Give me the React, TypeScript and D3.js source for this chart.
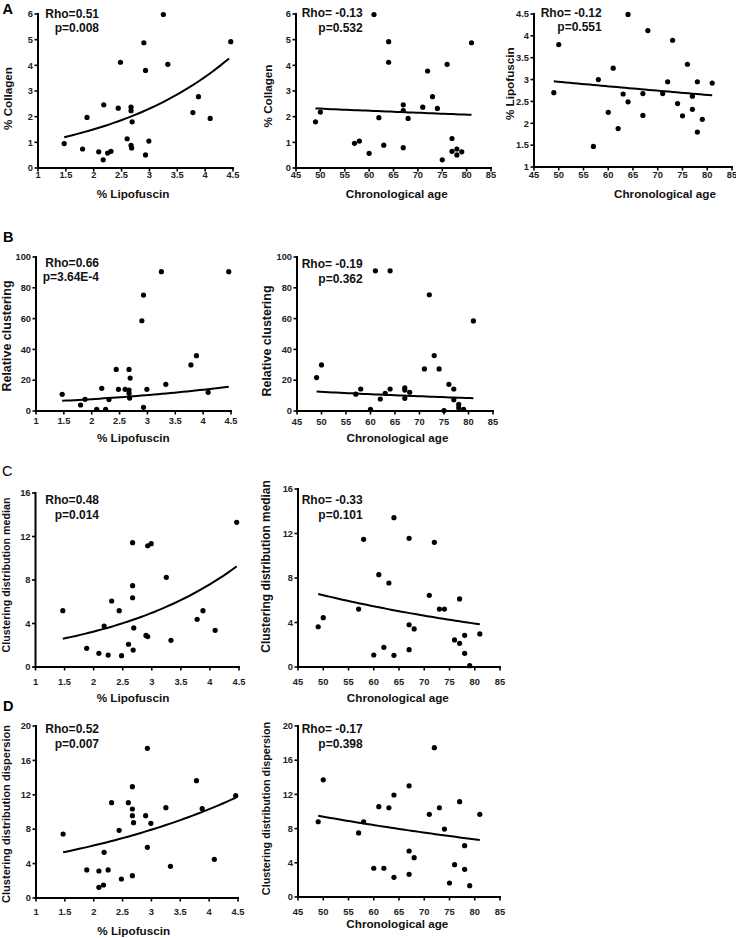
import React from 'react';
import * as d3 from 'd3';

// ---------- DATA ----------
const lipoTicks = [1, 1.5, 2, 2.5, 3, 3.5, 4, 4.5];
const ageTicks = [45, 50, 55, 60, 65, 70, 75, 80, 85];
const collagenTicks = [0, 1, 2, 3, 4, 5, 6];
const lipoYTicks = [1, 1.5, 2, 2.5, 3, 3.5, 4, 4.5];
const clusteringTicks = [0, 20, 40, 60, 80, 100];
const medianTicks = [0, 4, 8, 12, 16];
const dispersionTicks = [0, 4, 8, 12, 16, 20];

// A1: % Lipofuscin vs % Collagen
const a1Lipo = [1.47, 1.8, 1.88, 2.09, 2.17, 2.18, 2.25, 2.31, 2.44, 2.48, 2.6, 2.67, 2.67, 2.67, 2.68, 2.69, 2.9, 2.93, 2.93, 2.99, 3.25, 3.33, 3.78, 3.88, 4.09, 4.46];
const a1Collagen = [0.95, 0.74, 1.97, 0.63, 0.32, 2.46, 0.58, 0.65, 2.33, 4.12, 1.14, 2.37, 2.23, 0.88, 0.78, 1.8, 4.88, 3.8, 0.51, 1.05, 5.98, 4.04, 2.16, 2.78, 1.93, 4.92];
const a1Fit = [1.47, 1.2, 4.43, 4.27];

// A2: age vs % Collagen
const a2Age = [49, 50, 57, 58, 60, 61, 62, 63, 64, 64, 67, 67, 67, 68, 71, 72, 73, 74, 75, 76, 77, 77, 78, 78, 79, 81];
const a2Collagen = [1.8, 2.18, 0.96, 1.05, 0.57, 5.98, 1.96, 0.89, 4.92, 4.12, 2.46, 2.24, 0.79, 1.93, 2.37, 3.78, 2.78, 2.32, 0.32, 4.04, 1.15, 0.65, 0.74, 0.51, 0.63, 4.88];
const a2Fit = [49, 2.32, 81, 2.07];

// A3: age vs % Lipofuscin
const a3Age = [49, 50, 57, 58, 60, 61, 62, 63, 64, 64, 67, 67, 68, 71, 72, 73, 74, 75, 76, 77, 77, 78, 78, 79, 81];
const a3Lipo = [2.7, 3.8, 1.47, 3.0, 2.25, 3.26, 1.88, 2.67, 4.49, 2.49, 2.68, 2.18, 4.12, 2.68, 2.95, 3.9, 2.45, 2.17, 3.35, 2.62, 2.32, 2.95, 1.8, 2.09, 2.92];
const a3Fit = [49, 2.96, 81, 2.64];

// B1: % Lipofuscin vs Relative clustering
const b1Lipo = [1.47, 1.8, 1.88, 2.09, 2.18, 2.25, 2.31, 2.44, 2.48, 2.6, 2.67, 2.69, 2.67, 2.67, 2.68, 2.9, 2.93, 2.93, 2.99, 3.25, 3.33, 3.78, 3.88, 4.09, 4.46];
const b1Clustering = [10.8, 3.9, 7.6, 1.1, 14.7, 1.1, 7.4, 27.0, 14.1, 14.1, 27.0, 21.4, 13.6, 11.5, 8.4, 58.6, 75.3, 2.4, 14.1, 90.5, 17.3, 29.9, 35.9, 12.1, 90.5];
const b1Fit = [1.47, 6.6, 4.46, 15.8];

// B2: age vs Relative clustering
const b2Age = [49, 50, 57, 58, 60, 61, 62, 63, 64, 64, 67, 67, 67, 68, 71, 72, 73, 74, 75, 76, 77, 77, 78, 78, 79, 81];
const b2Clustering = [21.7, 29.9, 10.9, 14.3, 1.1, 91.0, 7.8, 11.5, 91.0, 14.3, 15.0, 13.6, 8.2, 12.1, 27.3, 75.5, 36.0, 27.3, 0.3, 17.3, 14.3, 7.3, 4.3, 2.1, 1.1, 58.5];
const b2Fit = [49, 12.6, 81, 8.3];

// C1: % Lipofuscin vs Clustering distribution median
const c1Lipo = [1.47, 1.88, 2.09, 2.18, 2.25, 2.31, 2.44, 2.48, 2.6, 2.67, 2.67, 2.67, 2.69, 2.68, 2.9, 2.93, 2.93, 2.99, 3.25, 3.33, 3.78, 3.88, 4.09, 4.46];
const c1Median = [5.18, 1.72, 1.26, 3.77, 1.1, 6.07, 5.18, 1.04, 2.09, 11.43, 7.48, 6.37, 3.59, 1.56, 2.9, 2.8, 11.15, 11.34, 8.25, 2.45, 4.38, 5.18, 3.37, 13.3];
const c1Fit = [1.47, 2.6, 4.46, 9.25];

// C2: age vs Clustering distribution median
const c2Age = [49, 50, 57, 58, 60, 61, 62, 63, 64, 64, 67, 67, 67, 68, 71, 72, 73, 74, 76, 77, 77, 78, 78, 79, 81];
const c2Median = [3.62, 4.43, 5.21, 11.48, 1.08, 8.3, 1.77, 7.55, 13.42, 1.05, 11.57, 3.8, 1.56, 3.42, 6.44, 11.21, 5.21, 5.21, 2.43, 6.12, 2.13, 2.85, 1.23, 0.12, 2.97];
const c2Fit = [49, 6.56, 81, 3.84];

// D1: % Lipofuscin vs Clustering distribution dispersion
const d1Lipo = [1.47, 1.88, 2.09, 2.09, 2.17, 2.18, 2.25, 2.31, 2.44, 2.48, 2.6, 2.67, 2.67, 2.67, 2.69, 2.67, 2.9, 2.93, 2.93, 2.99, 3.25, 3.33, 3.78, 3.88, 4.09, 4.46];
const d1Dispersion = [7.44, 3.26, 3.14, 1.24, 1.51, 5.31, 3.26, 11.09, 7.87, 2.21, 11.09, 12.95, 10.35, 9.57, 8.76, 2.6, 9.57, 17.4, 5.89, 8.68, 10.5, 3.68, 13.64, 10.39, 4.5, 11.9];
const d1Fit = [1.47, 5.31, 4.46, 11.66];

// D2: age vs Clustering distribution dispersion
const d2Age = [49, 50, 57, 58, 60, 61, 62, 63, 64, 64, 67, 67, 67, 68, 71, 72, 73, 74, 75, 76, 77, 78, 78, 79, 81];
const d2Dispersion = [8.8, 13.7, 7.5, 8.8, 3.36, 10.56, 3.36, 10.44, 11.93, 2.3, 13.0, 5.38, 2.65, 4.6, 9.67, 17.46, 10.44, 7.95, 1.64, 3.78, 11.15, 6.0, 3.24, 1.32, 9.67];
const d2Fit = [49, 9.5, 81, 6.67];

const stats = [
  ['Rho=0.51', 'p=0.008'],
  ['Rho= -0.13', 'p=0.532'],
  ['Rho= -0.12', 'p=0.551'],
  ['Rho=0.66', 'p=3.64E-4'],
  ['Rho= -0.19', 'p=0.362'],
  ['Rho=0.48', 'p=0.014'],
  ['Rho= -0.33', 'p=0.101'],
  ['Rho=0.52', 'p=0.007'],
  ['Rho= -0.17', 'p=0.398'],
];

// ---------- LAYOUT ----------
const FONT = '"Liberation Sans", Arial, Helvetica, sans-serif';

type Layout = {
  xRange: [number, number];
  yRange: [number, number];
  xLabelBase: number;
  xTitlePos: [number, number];
  yTitlePos: [number, number];
  yTitleSize: number;
  statRight: number;
  statBase: [number, number];
  letter?: string;
  letterPos?: [number, number];
  letterWeight?: string;
};

type PanelDef = {
  xs: number[];
  ys: number[];
  fit: number[];
  xTicks: number[];
  yTicks: number[];
  xTitle: string;
  yTitle: string;
  stat: string[];
  layout: Layout;
};

const panels: PanelDef[] = [
  {
    xs: a1Lipo, ys: a1Collagen, fit: a1Fit, xTicks: lipoTicks, yTicks: collagenTicks,
    xTitle: '% Lipofuscin', yTitle: '% Collagen', stat: stats[0],
    layout: { xRange: [38, 233], yRange: [168, 14], xLabelBase: 177.5, xTitlePos: [133, 197.5], yTitlePos: [12, 98.5], yTitleSize: 11.7, statRight: 99, statBase: [17.5, 31.7], letter: 'A', letterPos: [2.5, 14], letterWeight: 'bold' },
  },
  {
    xs: a2Age, ys: a2Collagen, fit: a2Fit, xTicks: ageTicks, yTicks: collagenTicks,
    xTitle: 'Chronological age', yTitle: '% Collagen', stat: stats[1],
    layout: { xRange: [296, 491], yRange: [168, 14], xLabelBase: 178, xTitlePos: [396.7, 197.5], yTitlePos: [271.5, 96], yTitleSize: 11.7, statRight: 362.7, statBase: [17.3, 31.5] },
  },
  {
    xs: a3Age, ys: a3Lipo, fit: a3Fit, xTicks: ageTicks, yTicks: lipoYTicks,
    xTitle: 'Chronological age', yTitle: '% Lipofuscin', stat: stats[2],
    layout: { xRange: [534, 732], yRange: [167, 14], xLabelBase: 178, xTitlePos: [665, 197.5], yTitlePos: [513.5, 83.7], yTitleSize: 11.7, statRight: 601.7, statBase: [17, 31] },
  },
  {
    xs: b1Lipo, ys: b1Clustering, fit: b1Fit, xTicks: lipoTicks, yTicks: clusteringTicks,
    xTitle: '% Lipofuscin', yTitle: 'Relative clustering', stat: stats[3],
    layout: { xRange: [36, 231], yRange: [411, 257], xLabelBase: 423.5, xTitlePos: [133.3, 441.5], yTitlePos: [11, 336], yTitleSize: 12.5, statRight: 99, statBase: [266.7, 281], letter: 'B', letterPos: [3, 242], letterWeight: 'bold' },
  },
  {
    xs: b2Age, ys: b2Clustering, fit: b2Fit, xTicks: ageTicks, yTicks: clusteringTicks,
    xTitle: 'Chronological age', yTitle: 'Relative clustering', stat: stats[4],
    layout: { xRange: [297, 493], yRange: [411, 257], xLabelBase: 424.5, xTitlePos: [397.5, 441.8], yTitlePos: [271, 341], yTitleSize: 12.5, statRight: 362.7, statBase: [268.3, 283.3] },
  },
  {
    xs: c1Lipo, ys: c1Median, fit: c1Fit, xTicks: lipoTicks, yTicks: medianTicks,
    xTitle: '% Lipofuscin', yTitle: 'Clustering distribution median', stat: stats[5],
    layout: { xRange: [35.5, 239], yRange: [667, 493], xLabelBase: 685, xTitlePos: [133, 701.5], yTitlePos: [9.5, 575], yTitleSize: 10.7, statRight: 99, statBase: [504, 519], letter: 'C', letterPos: [2, 476], letterWeight: 'normal' },
  },
  {
    xs: c2Age, ys: c2Median, fit: c2Fit, xTicks: ageTicks, yTicks: medianTicks,
    xTitle: 'Chronological age', yTitle: 'Clustering distribution median', stat: stats[6],
    layout: { xRange: [298, 500], yRange: [667, 489], xLabelBase: 685, xTitlePos: [397.8, 701.8], yTitlePos: [270, 566.5], yTitleSize: 11.9, statRight: 362.7, statBase: [504, 519.3] },
  },
  {
    xs: d1Lipo, ys: d1Dispersion, fit: d1Fit, xTicks: lipoTicks, yTicks: dispersionTicks,
    xTitle: '% Lipofuscin', yTitle: 'Clustering distribution dispersion', stat: stats[7],
    layout: { xRange: [36, 238], yRange: [898, 726], xLabelBase: 915, xTitlePos: [133.7, 934.5], yTitlePos: [10, 814], yTitleSize: 11.1, statRight: 99, statBase: [733.3, 748.3], letter: 'D', letterPos: [3, 711], letterWeight: 'bold' },
  },
  {
    xs: d2Age, ys: d2Dispersion, fit: d2Fit, xTicks: ageTicks, yTicks: dispersionTicks,
    xTitle: 'Chronological age', yTitle: 'Clustering distribution dispersion', stat: stats[8],
    layout: { xRange: [298, 500], yRange: [897, 726], xLabelBase: 915, xTitlePos: [397.3, 927.8], yTitlePos: [270, 808.5], yTitleSize: 10.8, statRight: 362.7, statBase: [733.3, 748.3] },
  },
];

const fmt = (v: number) => String(v);

function Panel({ def }: { def: PanelDef }) {
  const L = def.layout;
  const xDom = d3.extent(def.xTicks) as [number, number];
  const yDom = d3.extent(def.yTicks) as [number, number];
  const x = d3.scaleLinear().domain(xDom).range(L.xRange);
  const y = d3.scaleLinear().domain(yDom).range(L.yRange);
  const x0 = x(xDom[0]);
  const y0 = y(yDom[0]);
  const [fx0, fy0, fx1, fy1] = def.fit;
  // exponential fit curve between the two read endpoints
  const n = 40;
  const fitPts: [number, number][] = d3.range(n + 1).map((i) => {
    const t = i / n;
    const xv = fx0 + (fx1 - fx0) * t;
    const yv = fy0 * Math.pow(fy1 / fy0, t);
    return [xv, yv];
  });
  const line = d3.line<[number, number]>().x((d) => x(d[0])).y((d) => y(d[1]));
  const textStyle = { fontFamily: FONT };
  return (
    <g>
      {/* axes */}
      <line x1={x0} y1={y0} x2={x0} y2={y(yDom[1])} stroke="#000" strokeWidth={2} strokeLinecap="square" />
      <line x1={x0} y1={y0} x2={x(xDom[1])} y2={y0} stroke="#000" strokeWidth={2} strokeLinecap="square" />
      {def.yTicks.map((t) => (
        <g key={'y' + t}>
          <line x1={x0 - 3.5} x2={x0} y1={y(t)} y2={y(t)} stroke="#000" strokeWidth={1.6} />
          <text x={x0 - 5} y={y(t)} dy="0.35em" textAnchor="end" fontSize={9.3} fontWeight="bold" fill="#222" style={textStyle}>
            {fmt(t)}
          </text>
        </g>
      ))}
      {def.xTicks.map((t) => (
        <g key={'x' + t}>
          <line x1={x(t)} x2={x(t)} y1={y0} y2={y0 + 3.5} stroke="#000" strokeWidth={1.6} />
          <text x={x(t)} y={L.xLabelBase} textAnchor="middle" fontSize={9.3} fontWeight="bold" fill="#222" style={textStyle}>
            {fmt(t)}
          </text>
        </g>
      ))}
      {/* titles */}
      <text x={L.xTitlePos[0]} y={L.xTitlePos[1]} textAnchor="middle" fontSize={11.7} fontWeight="bold" fill="#111" style={textStyle}>
        {def.xTitle}
      </text>
      <text
        transform={`translate(${L.yTitlePos[0]},${L.yTitlePos[1]}) rotate(-90)`}
        textAnchor="middle"
        fontSize={L.yTitleSize}
        fontWeight="bold"
        fill="#111"
        style={textStyle}
      >
        {def.yTitle}
      </text>
      {/* fit curve */}
      <path d={line(fitPts) || ''} fill="none" stroke="#000" strokeWidth={2} />
      {/* points */}
      {def.xs.map((xv, i) => (
        <circle key={i} cx={x(xv)} cy={y(def.ys[i])} r={2.6} fill="#000" />
      ))}
      {/* stats */}
      <text x={L.statRight} y={L.statBase[0]} textAnchor="end" fontSize={12} fontWeight="bold" fill="#111" style={{ ...textStyle, whiteSpace: 'pre' }}>
        {def.stat[0]}
      </text>
      <text x={L.statRight} y={L.statBase[1]} textAnchor="end" fontSize={12} fontWeight="bold" fill="#111" style={textStyle}>
        {def.stat[1]}
      </text>
      {L.letter && L.letterPos && (
        <text x={L.letterPos[0]} y={L.letterPos[1]} fontSize={14.5} fontWeight={L.letterWeight} fill="#000" style={textStyle}>
          {L.letter}
        </text>
      )}
    </g>
  );
}

export default function App() {
  return (
    <svg
      width={736}
      height={938}
      viewBox="0 0 736 938"
      style={{ position: 'absolute', left: 0, top: 0, background: '#fff' }}
    >
      <rect x={0} y={0} width={736} height={938} fill="#fff" />
      {panels.map((p, i) => (
        <Panel key={i} def={p} />
      ))}
    </svg>
  );
}
